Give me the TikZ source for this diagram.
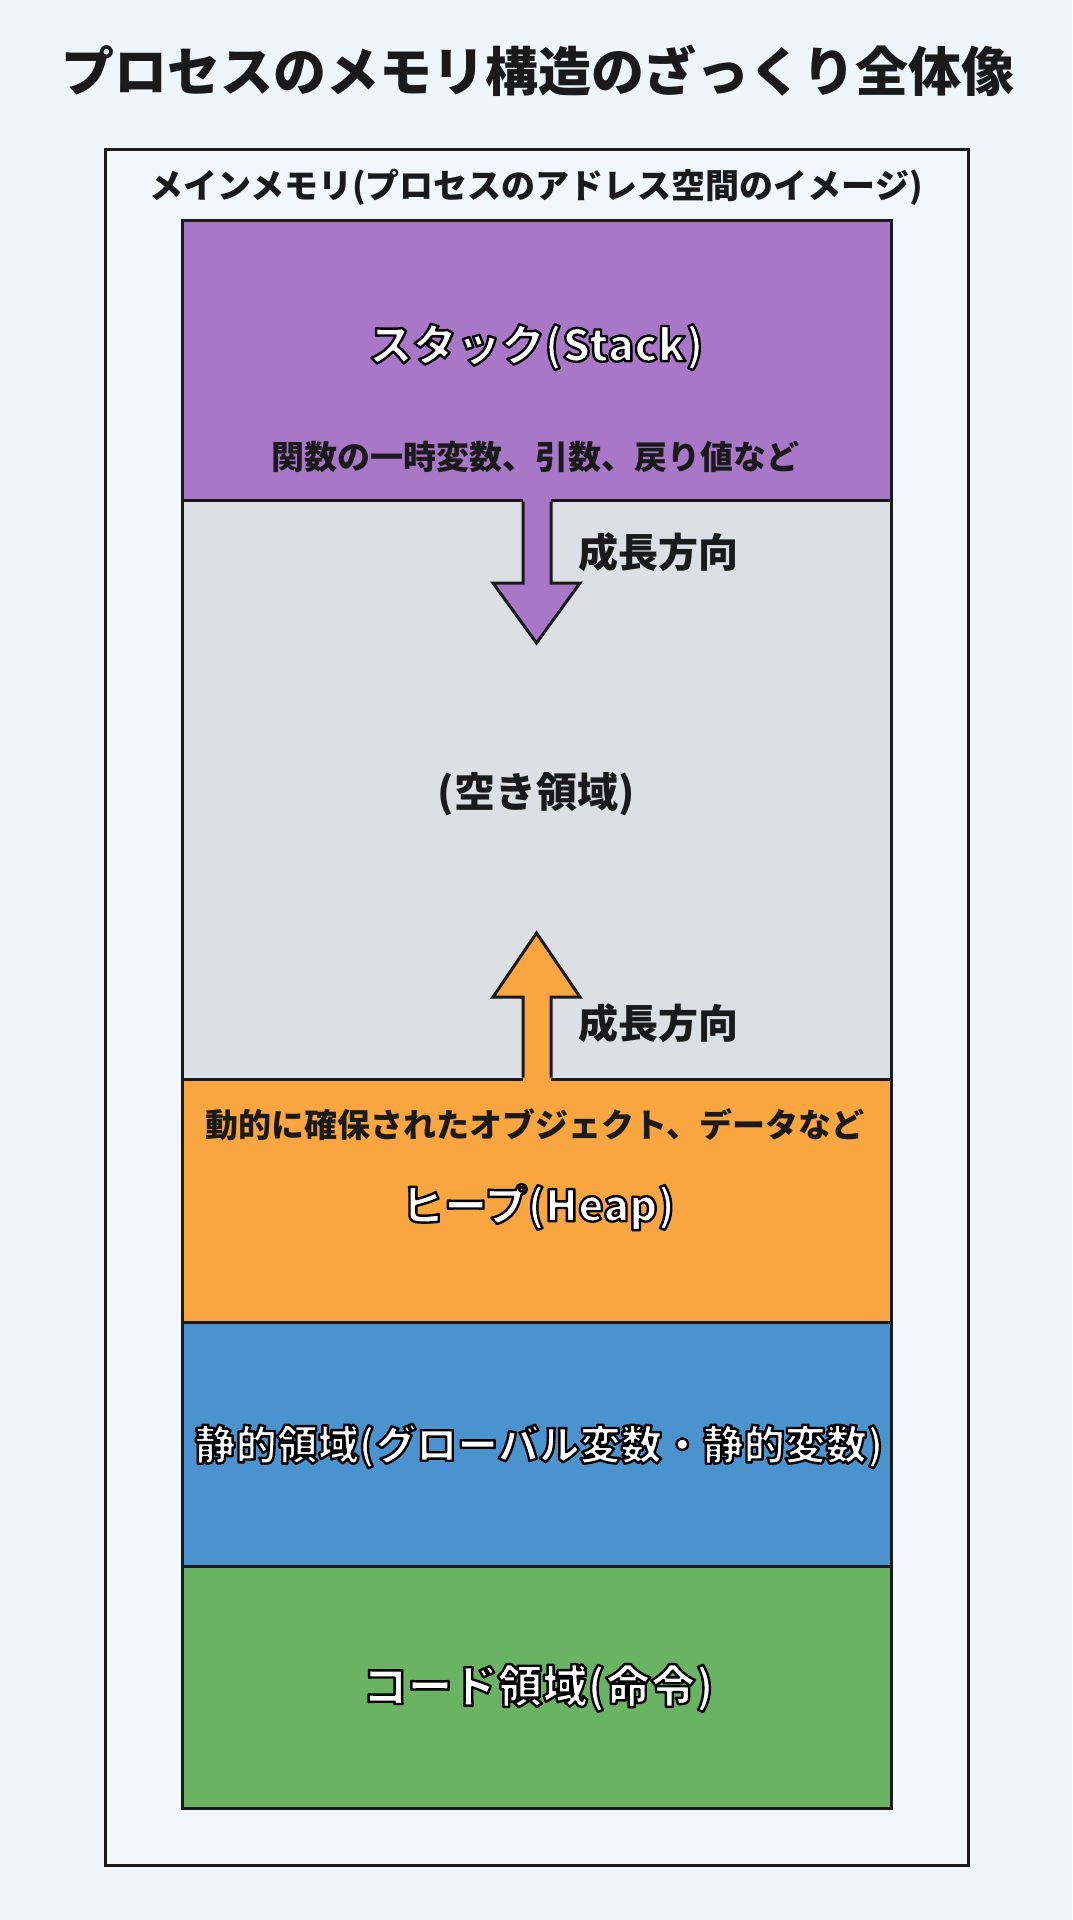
\documentclass[tikz,border=0pt]{standalone}
\usepackage{fontspec}
\setmainfont{Noto Sans CJK JP}
\definecolor{bg}{HTML}{EEF5FB}
\definecolor{framefill}{HTML}{F1F7FC}
\definecolor{stackc}{HTML}{A977C8}
\definecolor{freec}{HTML}{DCDFE3}
\definecolor{heapc}{HTML}{F9A540}
\definecolor{staticc}{HTML}{4A93CF}
\definecolor{codec}{HTML}{69B363}
\definecolor{ink}{HTML}{1A1A1A}
% white text with a black outline (fill + stroke rendering mode)
\newcommand{\outlined}[1]{\special{pdf:literal direct 2 Tr 2.4 w 1 j 0 0 0 RG 1 1 1 rg}#1\special{pdf:literal direct 0 Tr}}
\tikzset{
  region/.style={draw=ink, line width=3pt},
  darktext/.style={text=ink, inner sep=0pt, font=\bfseries\fontsize{#1}{#1}\selectfont},
  outtext/.style={text=white, inner sep=0pt, font=\bfseries\fontsize{#1}{#1}\selectfont},
  growarrow/.style={line width=3pt, draw=ink, line join=miter},
}
\begin{document}
\begin{tikzpicture}[x=1pt,y=-1pt]
\fill[bg] (0,0) rectangle (1072,1920);
\useasboundingbox (0,0) rectangle (1072,1920);
% title
\node[darktext=53] (title) at (538,71) {プロセスのメモリ構造のざっくり全体像};
% outer frame
\draw[region, fill=framefill] (105,149.5) rectangle (968,1865);
\node[darktext=34] (framelabel) at (536,187) {メインメモリ(プロセスのアドレス空間のイメージ)};
% regions
\draw[region, fill=stackc] (182,220) rectangle (891,500);
\draw[region, fill=freec] (182,500) rectangle (891,1079);
\draw[region, fill=heapc] (182,1079) rectangle (891,1322);
\draw[region, fill=staticc] (182,1322) rectangle (891,1566);
\draw[region, fill=codec] (182,1566) rectangle (891,1808);
% down arrow (stack growth)
\fill[stackc] (523,495) -- (523,583) -- (493,583) -- (536.5,643) -- (580,583) -- (551,583) -- (551,495) -- cycle;
\draw[growarrow] (523,501.5) -- (523,583) -- (493,583) -- (536.5,643) -- (580,583) -- (551,583) -- (551,501.5);
% up arrow (heap growth)
\fill[heapc] (523,1084) -- (523,997) -- (493,997) -- (536.5,933) -- (580,997) -- (551,997) -- (551,1084) -- cycle;
\draw[growarrow] (523,1077.5) -- (523,997) -- (493,997) -- (536.5,933) -- (580,997) -- (551,997) -- (551,1077.5);
% texts
\node[outtext=44] (stackname) at (536,347) {\outlined{スタック(Stack)}};
\node[darktext=33] (stackdesc) at (535,457) {関数の一時変数、引数、戻り値など};
\node[darktext=40, anchor=west] (growdown) at (578,552) {成長方向};
\node[darktext=41] (freename) at (536,794) {(空き領域)};
\node[darktext=40, anchor=west] (growup) at (578,1023) {成長方向};
\node[darktext=33] (heapdesc) at (535,1125) {動的に確保されたオブジェクト、データなど};
\node[outtext=43] (heapname) at (538,1207) {\outlined{ヒープ(Heap)}};
\node[outtext=41] (staticname) at (539,1446) {\outlined{静的領域(グローバル変数・静的変数)}};
\node[outtext=45] (codename) at (538,1688) {\outlined{コード領域(命令)}};
\end{tikzpicture}
\end{document}
